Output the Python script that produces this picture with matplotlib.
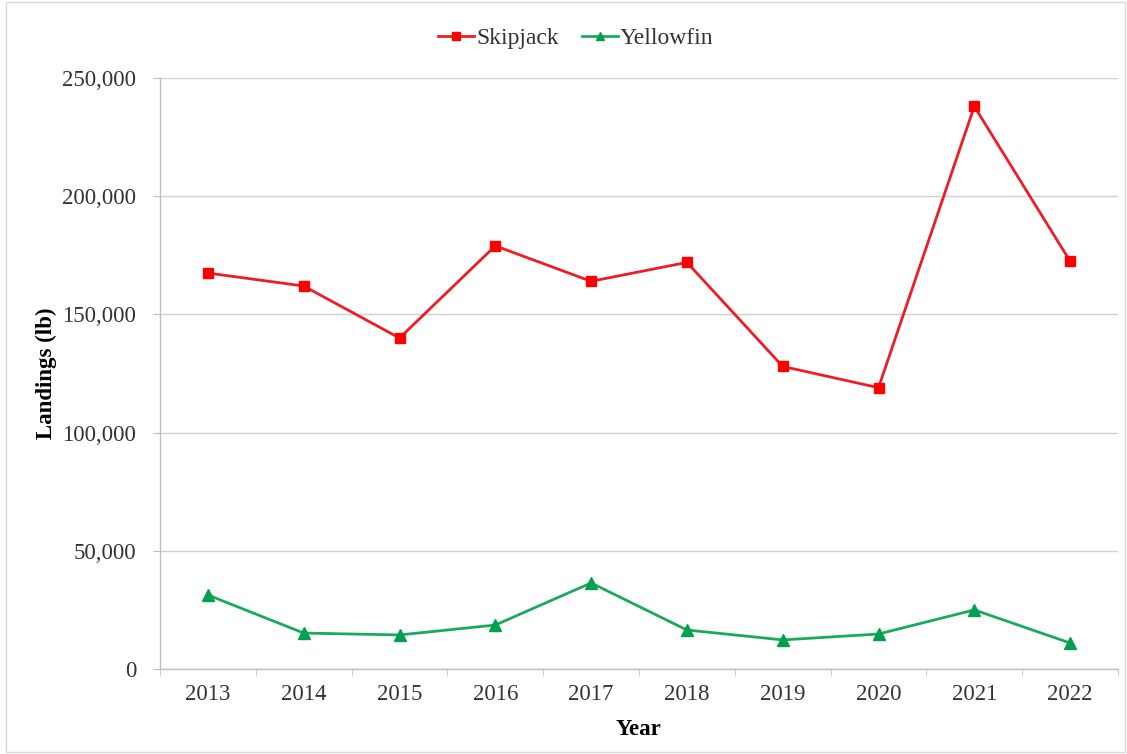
import matplotlib
matplotlib.use('Agg')
import matplotlib.pyplot as plt
import numpy as np
from matplotlib.ticker import FuncFormatter, FixedLocator
from matplotlib.patches import Rectangle

years = ['2013', '2014', '2015', '2016', '2017', '2018', '2019', '2020', '2021', '2022']
skipjack = [167500, 162000, 140000, 179000, 164000, 172000, 128000, 119000, 238000, 172500]
yellowfin = [31300, 15200, 14400, 18600, 36400, 16500, 12300, 14800, 25000, 11000]

plt.rcParams['font.family'] = ['Liberation Serif', 'DejaVu Serif']

fig = plt.figure(figsize=(11.27, 7.54), dpi=100)
ax = fig.add_axes([160 / 1127, 1 - 669 / 754, (1118 - 160) / 1127, (669 - 78) / 754])

# light frame around the whole chart
fig.patches.append(Rectangle((6 / 1127, 0.002), 1 - 8 / 1127, 0.996, transform=fig.transFigure,
                             fill=False, edgecolor='#d9d9d9', linewidth=1))

x = np.arange(len(years))
ax.plot(x, skipjack, color='#ee1c25', linewidth=2, marker='s', markersize=7.5,
        markerfacecolor='#ff0000', markeredgecolor='#ff0000', label='Skipjack')
ax.plot(x, yellowfin, color='#1aaa5e', linewidth=2, marker='^', markersize=8,
        markerfacecolor='#00a050', markeredgecolor='#00a050', label='Yellowfin')

ax.set_xlim(-0.5, len(years) - 0.5)
ax.set_ylim(0, 250000)
ax.set_yticks(np.arange(0, 250001, 50000))
ax.yaxis.set_major_formatter(FuncFormatter(lambda v, p: f'{int(v):,}'))
ax.set_xticks(x)
ax.set_xticklabels(years)
ax.xaxis.set_minor_locator(FixedLocator(np.arange(-0.5, len(years), 1.0)))
ax.tick_params(axis='x', which='major', length=0, pad=11, labelsize=16.5, colors='#333333')
ax.tick_params(axis='x', which='minor', length=5, color='#bfbfbf', direction='out')
ax.tick_params(axis='y', length=5, color='#bfbfbf', direction='out', pad=12, labelsize=16.5,
               labelcolor='#333333')

ax.grid(axis='y', color='#d0d0d0', linewidth=1)
ax.set_axisbelow(True)
for s in ['top', 'right']:
    ax.spines[s].set_visible(False)
for s in ['left', 'bottom']:
    ax.spines[s].set_color('#bfbfbf')
    ax.spines[s].set_linewidth(1)

ax.set_xlabel('Year', fontsize=16.5, fontweight='bold', labelpad=10)
ax.set_ylabel('Landings (lb)', fontsize=16.5, fontweight='bold')
ax.yaxis.set_label_coords((57 - 160) / 958, 0.5)

fig.legend(*ax.get_legend_handles_labels(), loc='center', bbox_to_anchor=(576 / 1127, 1 - 38 / 754),
           ncol=2, frameon=False, fontsize=17, handlelength=1.5, columnspacing=1.0,
           handletextpad=0.1, markerscale=0.8, labelcolor='#333333')

fig.savefig('out.png', dpi=100)
